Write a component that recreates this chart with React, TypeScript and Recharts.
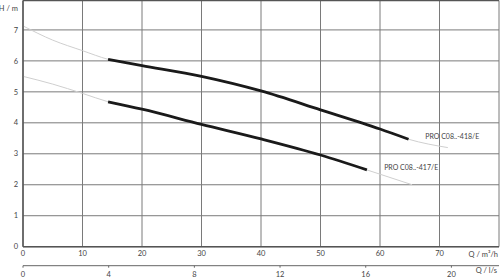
import { LineChart, Line, XAxis, YAxis, CartesianGrid, ReferenceLine, ReferenceDot } from 'recharts';

// PRO C08..-418/E : Q in m³/h, H in m
const flow418 = [0, 5, 10, 14.3, 20, 30, 40, 50, 60, 64.8, 71.4];
const head418 = [7.13, 6.67, 6.33, 6.05, 5.85, 5.5, 5.03, 4.42, 3.8, 3.47, 3.2];
const duty418 = [14.3, 64.8];

// PRO C08..-417/E
const flow417 = [0, 5, 10, 14.3, 20, 30, 40, 50, 57.8, 65.4];
const head417 = [5.5, 5.25, 4.95, 4.68, 4.44, 3.95, 3.48, 2.96, 2.48, 2.0];
const duty417 = [14.3, 57.8];

const curveNames = ['PRO C08..-418/E', 'PRO C08..-417/E'];
const labelFlow = [67.6, 60.7];
const labelHead = [3.57, 2.55];

const qTicks = [0, 10, 20, 30, 40, 50, 60, 70];
const lsTicks = [0, 4, 8, 12, 16, 20];
const hTicks = [0, 1, 2, 3, 4, 5, 6, 7];
const qMax = 80;
const hMax = 7.95;
const lsPerM3h = 3.6;

const font = 'Lato, "Noto Sans", sans-serif';
const tickStyle = { fontSize: 7.5, fill: '#444', fontFamily: font };

const toPoints = (qs: number[], hs: number[]) => qs.map((q, i) => ({ q, h: hs[i] }));
const curve418 = toPoints(flow418, head418);
const curve417 = toPoints(flow417, head417);
const part418 = curve418.filter((p) => p.q >= duty418[0] && p.q <= duty418[1]);
const part417 = curve417.filter((p) => p.q >= duty417[0] && p.q <= duty417[1]);

export default function App() {
  return (
    <div style={{ position: 'absolute', left: 0, top: 0, background: '#fff' }}>
      <LineChart width={500} height={280} margin={{ top: 0.5, right: 1, bottom: 0, left: 0 }}>
        <CartesianGrid stroke="#7a7a7a" strokeWidth={1} />
        <XAxis
          dataKey="q"
          type="number"
          domain={[0, qMax]}
          ticks={qTicks}
          allowDataOverflow
          height={19}
          tickLine={false}
          tickSize={0}
          tickMargin={4}
          tick={tickStyle}
          axisLine={{ stroke: '#555', strokeWidth: 1.5 }}
          label={{ value: 'Q / m³/h', position: 'insideRight', offset: 1, dy: -2, fontSize: 7.5, fill: '#444', fontFamily: font }}
        />
        {/* second scale in l/s, same positions as m³/h */}
        <XAxis
          xAxisId="ls"
          dataKey="q"
          type="number"
          domain={[0, qMax]}
          ticks={lsTicks.map((v) => v * lsPerM3h)}
          tickFormatter={(v: number) => String(Math.round(v / lsPerM3h))}
          allowDataOverflow
          height={14.3}
          tickSize={2}
          tickMargin={4}
          tickLine={{ stroke: '#666' }}
          tick={tickStyle}
          axisLine={{ stroke: '#666', strokeWidth: 1 }}
          label={{ value: 'Q / l/s', position: 'insideRight', offset: 2, dy: -2.5, fontSize: 7.5, fill: '#444', fontFamily: font }}
        />
        <YAxis
          type="number"
          domain={[0, hMax]}
          ticks={hTicks}
          allowDataOverflow
          width={23}
          tickLine={false}
          tickSize={0}
          tickMargin={5}
          tick={tickStyle}
          axisLine={{ stroke: '#555', strokeWidth: 1.5 }}
          label={{ value: 'H / m', position: 'insideTopRight', offset: 5, fontSize: 7.5, fill: '#444', fontFamily: font }}
        />
        <ReferenceLine y={hMax} stroke="#555" strokeWidth={1.5} />
        <Line data={curve418} dataKey="h" type="monotone" stroke="#cfcfcf" strokeWidth={1} dot={false} activeDot={false} isAnimationActive={false} />
        <Line xAxisId="ls" data={curve417} dataKey="h" type="monotone" stroke="#cfcfcf" strokeWidth={1} dot={false} activeDot={false} isAnimationActive={false} />
        <Line data={part418} dataKey="h" type="monotone" stroke="#1a1a1a" strokeWidth={2.8} dot={false} activeDot={false} isAnimationActive={false} />
        <Line data={part417} dataKey="h" type="monotone" stroke="#1a1a1a" strokeWidth={2.8} dot={false} activeDot={false} isAnimationActive={false} />
        {curveNames.map((name, i) => (
          <ReferenceDot
            key={name}
            x={labelFlow[i]}
            y={labelHead[i]}
            r={0}
            fill="none"
            stroke="none"
            label={{ value: name, position: 'right', offset: 0, fontSize: 7, fill: '#444', fontFamily: font }}
          />
        ))}
      </LineChart>
    </div>
  );
}
